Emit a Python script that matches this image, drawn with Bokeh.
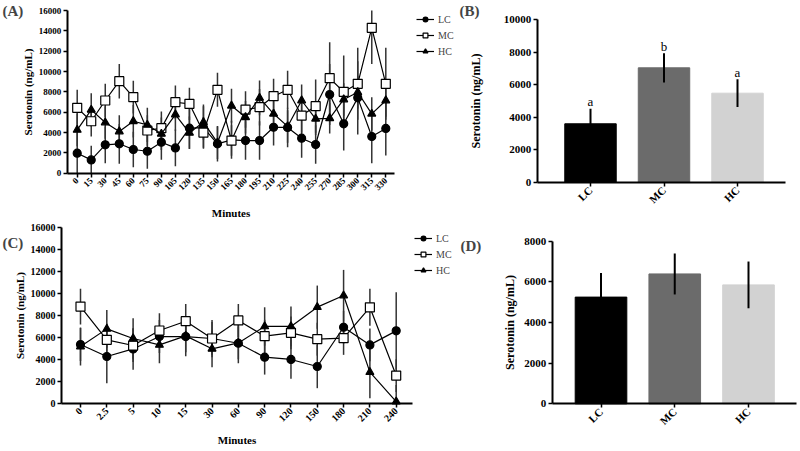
import math
from bokeh.plotting import figure
from bokeh.models import (ColumnDataSource, Label, Legend, LegendItem, FixedTicker, Range1d, LinearAxis)
from bokeh.layouts import row, column
from bokeh.embed import file_html
from bokeh.resources import INLINE
from bokeh.core.properties import value

FONT = "Liberation Serif"

# ---------------- data ----------------
# Panel A (time course, minutes)
minutes_a = [0, 15, 30, 45, 60, 75, 90, 105, 120, 135, 150, 165, 180, 195, 210, 225, 240, 255, 270, 285, 300, 315, 330]
lc_a = [1970, 1310, 2790, 2890, 2330, 2160, 3050, 2490, 4430, 4490, 2890, 3280, 3210, 3210, 4520, 4500, 3440, 2820, 7740, 4860, 7410, 3610, 4400]
mc_a = [6430, 5110, 7150, 9050, 7480, 4200, 4430, 6980, 6820, 4000, 8200, 3210, 6260, 6490, 7570, 8200, 5670, 6590, 9340, 8000, 8790, 14300, 8790]
hc_a = [4260, 6230, 4980, 4100, 5110, 4750, 3870, 5770, 3970, 5020, 3000, 6630, 5500, 7400, 5840, 4600, 7150, 5350, 5400, 7250, 7960, 5840, 7150]
lc_err_a = [2000, 1400, 1810, 1950, 1740, 1730, 1730, 1800, 2030, 2090, 1740, 1870, 1890, 1890, 1800, 1940, 1930, 1900, 3000, 2630, 3610, 2630, 2660]
mc_err_a = [1770, 1500, 1640, 1700, 1620, 1500, 1640, 1640, 1580, 1500, 1670, 1500, 1800, 1800, 1730, 1870, 1700, 2620, 3540, 3570, 3540, 3550, 3540]
hc_err_a = [1600, 1640, 1600, 1600, 1600, 1680, 1600, 1600, 1600, 1730, 1600, 1670, 1600, 1710, 1600, 1600, 1570, 1600, 1500, 1600, 1600, 1630, 1600]

# Panel B (means)
groups = ["LC", "MC", "HC"]
means_b = [3590, 7030, 5470]
err_b = [920, 900, 850]
letters_b = ["a", "b", "a"]

# Panel C (time course, categorical minutes)
cats_c = ["0", "2.5", "5", "10", "15", "30", "60", "90", "120", "150", "180", "210", "240"]
lc_c = [5350, 4260, 4950, 6080, 6080, 5900, 5470, 4200, 3990, 3350, 6930, 5320, 6600]
mc_c = [8810, 5780, 5260, 6630, 7480, 5900, 7550, 6110, 6420, 5840, 5930, 8750, 2520]
hc_c = [5170, 6780, 5900, 5320, 6140, 4960, 5500, 7000, 7000, 8760, 9820, 2830, 150]
lc_err_c = [1500, 2440, 1910, 1500, 1790, 1500, 1820, 1590, 1770, 1980, 1500, 1500, 3520]
mc_err_c = [1620, 1500, 1500, 1580, 1580, 1700, 1510, 1500, 1500, 1500, 1520, 1680, 1500]
hc_err_c = [1740, 1730, 1850, 1670, 1500, 1680, 1500, 1750, 1810, 1970, 2340, 2370, 1500]

# Panel D (means)
means_d = [5250, 6390, 5850]
err_d = [1180, 1010, 1150]

bar_colors = ["#000000", "#6b6b6b", "#d2d2d2"]


def x_range_px(width, p0, v0, p1, v1):
    """x range for a canvas 0..width where pixel p0 shows v0 and p1 shows v1."""
    k = (v1 - v0) / (p1 - p0)
    return Range1d(v0 - p0 * k, v0 + (width - p0) * k)


def y_range_px(height, p0, v0, p1, v1):
    """y range for a canvas 0..height (pixels from top) where p0 shows v0 and p1 shows v1."""
    k = (v1 - v0) / (p0 - p1)
    return Range1d(v0 - (height - p0) * k, v0 + p0 * k)


def make_fig(w, h, xr, yr):
    p = figure(width=w, height=h, output_backend="svg", toolbar_location=None,
               x_range=xr, y_range=yr, x_axis_location=None, y_axis_location=None,
               min_border_left=0, min_border_right=0, min_border_top=0, min_border_bottom=0)
    p.xgrid.grid_line_color = None
    p.ygrid.grid_line_color = None
    p.outline_line_color = None
    p.background_fill_color = "white"
    p.border_fill_color = "white"
    return p


def add_axes(p, x_at, x_bounds, y_bounds, tick_px, label_px):
    xa = LinearAxis(fixed_location=0, bounds=x_bounds)
    ya = LinearAxis(fixed_location=x_at, bounds=y_bounds)
    p.add_layout(xa, "below")
    p.add_layout(ya, "left")
    for ax in (xa, ya):
        ax.axis_line_width = 2
        ax.axis_line_color = "black"
        ax.major_tick_line_width = 1.5
        ax.major_tick_out = 4
        ax.major_tick_in = 0
        ax.minor_tick_line_color = None
        ax.major_label_text_font = FONT
        ax.major_label_text_font_style = "bold"
        ax.major_label_text_font_size = tick_px
        ax.major_label_text_color = "black"
        ax.major_label_standoff = 2
        ax.axis_label_text_font = FONT
        ax.axis_label_text_font_style = "bold"
        ax.axis_label_text_font_size = label_px
        ax.axis_label_text_color = "black"
    xa.major_label_orientation = math.pi / 4
    ya.ticker = FixedTicker(ticks=list(range(0, int(y_bounds[1]) + 1, 2000)))
    ya.axis_label = "Serotonin (ng/mL)"
    return xa, ya


def panel_letter(p, txt, x, y):
    p.add_layout(Label(x=x, y=y, x_units="screen", y_units="screen", text=txt,
                       text_font=FONT, text_font_style="bold", text_font_size="15px",
                       text_baseline="top", text_align="left"))


def draw_series(p, xs, series, y_max, legend_loc):
    items = []
    for (name, ys, errs, marker, fill) in series:
        src = ColumnDataSource(dict(x=xs, lo=[max(0, a - b) for a, b in zip(ys, errs)],
                                    hi=[min(y_max, a + b) for a, b in zip(ys, errs)]))
        p.segment(x0="x", y0="lo", x1="x", y1="hi", source=src, line_color="#333333", line_width=1.5)
    for (name, ys, errs, marker, fill) in series:
        src = ColumnDataSource(dict(x=xs, y=ys))
        ln = p.line("x", "y", source=src, line_color="black", line_width=1.2)
        sz = 8 if marker != "square" else 9
        sc = p.scatter("x", "y", source=src, marker=marker, size=sz,
                       fill_color=fill, line_color="black", line_width=1.2)
        items.append(LegendItem(label=name, renderers=[ln, sc]))
    leg = Legend(items=items, location=legend_loc, border_line_alpha=0, background_fill_alpha=0,
                 label_text_font=FONT, label_text_font_size="10px", glyph_width=18, glyph_height=12,
                 label_height=12, spacing=4, padding=0, margin=0, label_standoff=4)
    p.add_layout(leg)


def draw_bars(p, means, errs, letters=None):
    idx = list(range(len(groups)))
    src = ColumnDataSource(dict(x=idx, top=means, color=bar_colors,
                                lo=[m - e for m, e in zip(means, errs)],
                                hi=[m + e for m, e in zip(means, errs)]))
    p.vbar(x="x", top="top", width=0.7, bottom=0, source=src, fill_color="color", line_color="color")
    p.segment(x0="x", y0="lo", x1="x", y1="hi", source=src, line_color="black", line_width=2)
    if letters:
        lsrc = ColumnDataSource(dict(x=idx, y=[m + e for m, e in zip(means, errs)], t=letters))
        p.text(x="x", y="y", text="t", source=lsrc, text_align="center", text_baseline="alphabetic",
               y_offset=-7, text_font=value(FONT), text_font_size="13px", text_color="#000000")
    return idx


# page layout: top row y 0..220, bottom row y 220..451; left column x 0..458, right 458..800
# ---- Panel A ----
WA, HA = 458, 220
pA = make_fig(WA, HA, x_range_px(WA, 76.7, 0, 385.3, 330), y_range_px(HA, 172.7, 0, 10, 16000))
series_a = [("LC", lc_a, lc_err_a, "circle", "black"),
            ("MC", mc_a, mc_err_a, "square", "white"),
            ("HC", hc_a, hc_err_a, "triangle", "black")]
draw_series(pA, minutes_a, series_a, 16000, (416, 163))
xa, ya = add_axes(pA, -10.7, (-10.7, 339.3), (0, 16000), "9px", "11px")
xa.ticker = FixedTicker(ticks=minutes_a)
xa.axis_label = "Minutes"
xa.axis_label_standoff = 11
ya.axis_label_standoff = 2
panel_letter(pA, "(A)", 2, HA - 2)

# ---- Panel B ----
WB, HB = 342, 220
pB = make_fig(WB, HB, x_range_px(WB, 590 - 458, 0, 737 - 458, 2), y_range_px(HB, 181.7, 0, 19, 10000))
idx = draw_bars(pB, means_b, err_b, letters_b)
xb, yb = add_axes(pB, -0.725, (-0.725, 2.653), (0, 10000), "11px", "12px")
xb.ticker = FixedTicker(ticks=idx)
xb.major_label_overrides = {i: g for i, g in zip(idx, groups)}
yb.axis_label_standoff = 18
panel_letter(pB, "(B)", 1, HB - 2)

# ---- Panel C ----
WC, HCc = 458, 231
idx_c = list(range(len(cats_c)))
pC = make_fig(WC, HCc, x_range_px(WC, 80, 0, 395.7, 12), y_range_px(HCc, 402.7 - 220, 0, 227.3 - 220, 16000))
series_c = [("LC", lc_c, lc_err_c, "circle", "black"),
            ("MC", mc_c, mc_err_c, "square", "white"),
            ("HC", hc_c, hc_err_c, "triangle", "black")]
draw_series(pC, idx_c, series_c, 16000, (414, 175))
xc, yc = add_axes(pC, -0.722, (-0.722, 12.62), (0, 16000), "10px", "11px")
xc.ticker = FixedTicker(ticks=idx_c)
xc.major_label_overrides = {i: c for i, c in zip(idx_c, cats_c)}
xc.axis_label = "Minutes"
xc.axis_label_standoff = 6
yc.axis_label_standoff = 2
panel_letter(pC, "(C)", 2, HCc - 14)

# ---- Panel D ----
WD, HD = 342, 231
pD = make_fig(WD, HD, x_range_px(WD, 600.5 - 458, 0, 748 - 458, 2), y_range_px(HD, 403.3 - 220, 0, 240.7 - 220, 8000))
idx = draw_bars(pD, means_d, err_d)
xd, yd = add_axes(pD, -0.662, (-0.662, 2.65), (0, 8000), "11px", "12px")
xd.ticker = FixedTicker(ticks=idx)
xd.major_label_overrides = {i: g for i, g in zip(idx, groups)}
yd.axis_label_standoff = 5
panel_letter(pD, "(D)", 2, HD - 17)

layout = column(row(pA, pB), row(pC, pD))
open("out.html", "w").write(file_html(layout, INLINE))
